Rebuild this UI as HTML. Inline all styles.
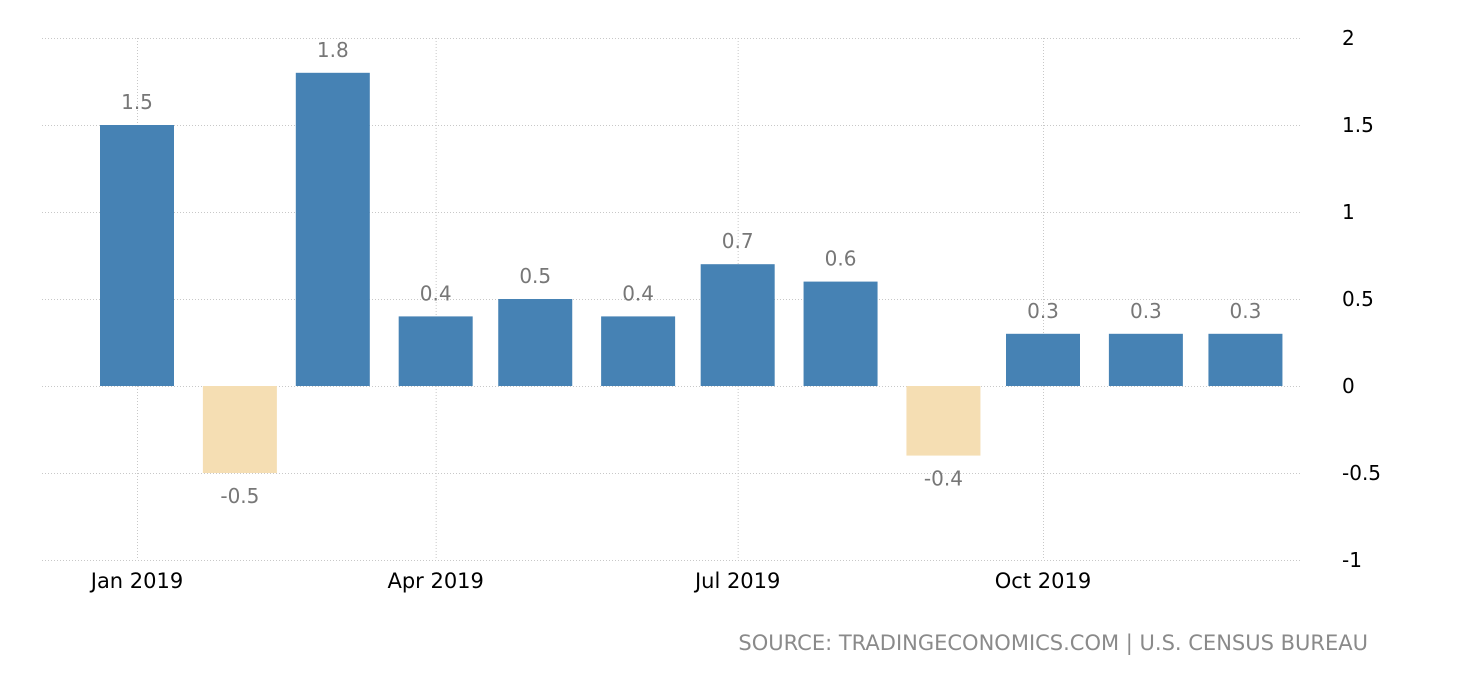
<!DOCTYPE html>
<html><head><meta charset="utf-8">
<style>
body{margin:0;background:#fff;width:1460px;height:680px;overflow:hidden;font-family:"DejaVu Sans","Liberation Sans",sans-serif;}
</style></head>
<body>
<svg id="chart" width="1460" height="680" xmlns="http://www.w3.org/2000/svg">
<g id="grid"></g>
<g id="bars"></g>
<g id="labels"></g>
<g id="yaxis"></g>
<g id="xaxis"></g>
<text x="1368" y="650" text-anchor="end" font-size="21" fill="#8a8a8a">SOURCE: TRADINGECONOMICS.COM | U.S. CENSUS BUREAU</text>
</svg>
<script>
const months=[0,31,59,90,120,151,181,212,243,273,304,334];
const values=[1.5,-0.5,1.8,0.4,0.5,0.4,0.7,0.6,-0.4,0.3,0.3,0.3];
const valueLabels=["1.5","-0.5","1.8","0.4","0.5","0.4","0.7","0.6","-0.4","0.3","0.3","0.3"];
const yTicks=[2,1.5,1,0.5,0,-0.5,-1];
const yTickLabels=["2","1.5","1","0.5","0","-0.5","-1"];
const xTickDays=[0,90,181,273];
const xTickLabels=["Jan 2019","Apr 2019","Jul 2019","Oct 2019"];
const NS="http://www.w3.org/2000/svg";
function x(d){return 137+d*(1043-137)/273;}
function y(v){return 386-v*174;}
function mk(t,a,p){const e=document.createElementNS(NS,t);for(const k in a)e.setAttribute(k,a[k]);p.appendChild(e);return e;}
const grid=document.getElementById('grid'),bars=document.getElementById('bars'),labels=document.getElementById('labels'),ya=document.getElementById('yaxis'),xa=document.getElementById('xaxis');
yTicks.forEach((v,i)=>{
 const l=mk('line',{x1:42,x2:1300,y1:y(v)+0.5,y2:y(v)+0.5,stroke:'#c8c8c8','stroke-dasharray':'1,2'},grid);
 
 
 const t=mk('text',{x:1342,y:y(v)+7,'font-size':20,fill:'#000'},ya);
 t.textContent=yTickLabels[i];
 
 
});
xTickDays.forEach((d,i)=>{
 const l=mk('line',{x1:x(d)+0.5,x2:x(d)+0.5,y1:38,y2:560,stroke:'#c8c8c8','stroke-dasharray':'1,2'},grid);
 
 
 const t=mk('text',{x:x(d),y:588,'font-size':21,fill:'#000','text-anchor':'middle'},xa);
 t.textContent=xTickLabels[i];
 
 
});
values.forEach((v,i)=>{
 const cx=x(months[i]),w=74;
 const top=Math.min(y(v),y(0)),h=Math.abs(y(v)-y(0));
 const r=mk('rect',{x:cx-w/2,y:top,width:w,height:h,fill:v>=0?'#4682b4':'#f5deb3'},bars);
 
 
 const ly=v>=0?y(v)-16:y(v)+30;
 const t=mk('text',{x:cx,y:ly,'font-size':20,fill:'#777','text-anchor':'middle'},labels);
 t.textContent=valueLabels[i];
 
 
});
</script>
</body></html>
